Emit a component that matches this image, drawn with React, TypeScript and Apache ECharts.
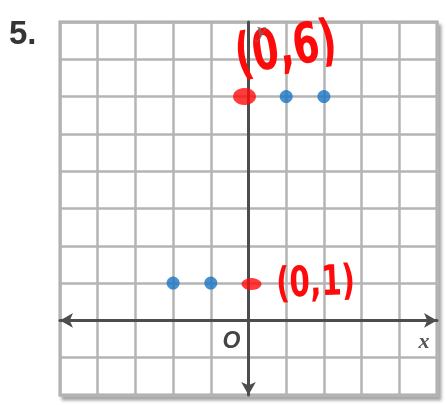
import { useEffect, useRef } from "react";
import * as echarts from "echarts";

// Coordinate plane extent and plotted points
const xRange = [-5, 5];
const yRange = [-2, 8];
const blueX = [-2, -1, 1, 2];
const blueY = [1, 1, 6, 6];
const redX = [0, 0];
const redY = [6, 1];
const problemNumber = "5.";
const axisNames = ["x", "y", "O"];

export default function App() {
  const ref = useRef<HTMLDivElement>(null);

  useEffect(() => {
    const chart = echarts.init(ref.current!, null, { renderer: "svg" });

    const gridLine = { show: true, lineStyle: { color: "#b4b4b4", width: 2.5 } };
    const axisLineStyle = { color: "#4d4d4d", width: 3 };

    // hand-drawn red markers: size and nudge for each
    const redMarks = [
      { size: [23, 17], offset: [-4, 0] },
      { size: [20, 12], offset: [3, 1] },
    ];

    chart.setOption({
      animation: false,
      grid: {
        left: 60,
        right: 9,
        top: 22,
        bottom: 10,
        show: true,
        backgroundColor: "#ffffff",
        borderColor: "#a8a8a8",
        borderWidth: 3,
        shadowColor: "rgba(0,0,0,0.35)",
        shadowBlur: 3,
        shadowOffsetX: 3,
        shadowOffsetY: 4,
      },
      xAxis: {
        type: "value",
        min: xRange[0],
        max: xRange[1],
        interval: 1,
        axisLine: {
          show: true,
          onZero: true,
          symbol: ["arrow", "arrow"],
          symbolSize: [11, 13],
          lineStyle: axisLineStyle,
        },
        axisTick: { show: false },
        axisLabel: { show: false },
        splitLine: gridLine,
      },
      yAxis: {
        type: "value",
        min: yRange[0],
        max: yRange[1],
        interval: 1,
        axisLine: {
          show: true,
          onZero: true,
          symbol: ["arrow", "none"],
          symbolSize: [11, 13],
          lineStyle: axisLineStyle,
        },
        axisTick: { show: false },
        axisLabel: { show: false },
        splitLine: gridLine,
      },
      series: [
        {
          type: "scatter",
          symbol: "circle",
          symbolSize: 13,
          itemStyle: { color: "#1a76c6" },
          data: blueX.map((x, i) => [x, blueY[i]]),
          z: 5,
        },
        {
          type: "scatter",
          symbol: "circle",
          itemStyle: { color: "#ff0a0a" },
          data: redX.map((x, i) => ({
            value: [x, redY[i]],
            symbolSize: redMarks[i].size,
            symbolOffset: redMarks[i].offset,
          })),
          z: 6,
        },
      ],
    });

    // coordinate labels written next to the red points
    const noteStyle = [
      { dx: 37, dy: -50, fontSize: 56, scaleX: 0.68, rotation: 0.16 },
      { dx: 67, dy: -2, fontSize: 42, scaleX: 0.7, rotation: 0.04 },
    ];
    const notes = redX.map((x, i) => {
      const [px, py] = chart.convertToPixel({ gridIndex: 0 }, [x, redY[i]]) as number[];
      const s = noteStyle[i];
      return {
        type: "text",
        x: px + s.dx,
        y: py + s.dy,
        scaleX: s.scaleX,
        rotation: s.rotation,
        z: 20,
        style: {
          text: `(${x},${redY[i]})`,
          fill: "#ff0a0a",
          font: `bold ${s.fontSize}px 'DejaVu Sans', sans-serif`,
          textAlign: "center",
          textVerticalAlign: "middle",
        },
      };
    });

    const [ox, oy] = chart.convertToPixel({ gridIndex: 0 }, [0, 0]) as number[];

    chart.setOption({
      graphic: [
        {
          type: "text",
          left: 9,
          top: 16,
          style: {
            text: problemNumber,
            fill: "#353535",
            font: "bold 33px 'Liberation Sans', Arial, sans-serif",
          },
        },
        {
          type: "text",
          x: 424,
          y: oy + 20,
          z: 10,
          style: {
            text: axisNames[0],
            fill: "#555555",
            font: "italic bold 22px 'Liberation Serif', serif",
            textAlign: "center",
            textVerticalAlign: "middle",
          },
        },
        {
          type: "text",
          x: ox + 13,
          y: 30,
          z: 25,
          style: {
            text: axisNames[1],
            fill: "rgba(110,110,110,0.75)",
            font: "italic bold 20px 'Liberation Serif', serif",
            textAlign: "center",
            textVerticalAlign: "middle",
          },
        },
        {
          type: "text",
          x: ox - 17,
          y: oy + 20,
          z: 10,
          style: {
            text: axisNames[2],
            fill: "#444444",
            font: "italic bold 23px 'Liberation Sans', Arial, sans-serif",
            textAlign: "center",
            textVerticalAlign: "middle",
          },
        },
        ...notes,
      ],
    });

    return () => chart.dispose();
  }, []);

  return (
    <div
      ref={ref}
      style={{ position: "fixed", left: 0, top: 0, width: 446, height: 405 }}
    />
  );
}
